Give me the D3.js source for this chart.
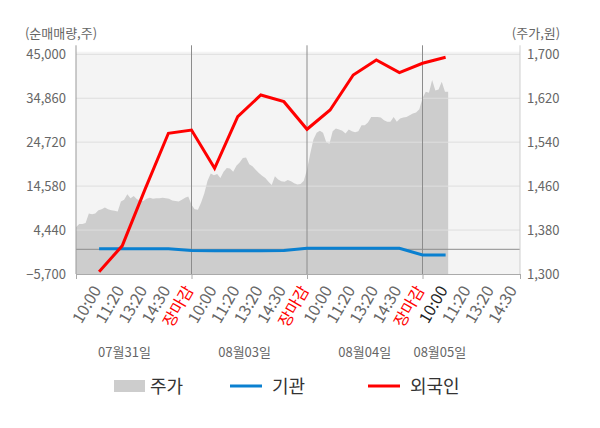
<!DOCTYPE html>
<html>
<head>
<meta charset="utf-8">
<script src="https://cdn.jsdelivr.net/npm/d3@7"></script>
<style>
  body { margin: 0; background: #fff; }
  svg { display: block; font-family: "Noto Sans CJK KR", "Noto Sans", sans-serif; }
</style>
</head>
<body>
<svg id="chart" width="600" height="428"></svg>
<script>
// x positions are "slots": each trading day is 5 slots wide, slot 0 = open of day 1
const xLabels = [
  "10:00", "11:20", "13:20", "14:30", "장마감",
  "10:00", "11:20", "13:20", "14:30", "장마감",
  "10:00", "11:20", "13:20", "14:30", "장마감",
  "10:00", "11:20", "13:20", "14:30"
];
const currentLabel = 15; // index of the latest time label (day 4, 10:00)
const days = ["07월31일", "08월03일", "08월04일", "08월05일"];
const dayLabelSlot = [2.1, 7.3, 12.5, 15.75];

const leftTicks = [-5700, 4440, 14580, 24720, 34860, 45000];
const rightTicks = [1300, 1380, 1460, 1540, 1620, 1700];

// net buying, one value per time label (slots 1..16)
const foreign = [-5170, 800, 13990, 26770, 27530, 18690, 30600, 35610, 34070,
                 27700, 32150, 40230, 43690, 40760, 42930, 44310];
const institution = [100, 100, 100, 100, -300, -320, -320, -320, -300,
                     230, 230, 230, 230, 230, -1320, -1320];

// intraday price per day, sampled evenly (36 samples per full day)
const priceDay1 = [1385, 1391, 1391, 1393, 1410, 1409, 1410, 1416, 1418, 1421, 1418, 1416,
                   1415, 1414, 1432, 1435, 1445, 1438, 1442, 1436, 1434, 1433, 1437, 1439,
                   1437, 1438, 1438, 1439, 1438, 1437, 1434, 1433, 1432, 1435, 1439, 1441];
const priceDay2 = [1426, 1418, 1417, 1430, 1447, 1470, 1483, 1480, 1482, 1475, 1486, 1493,
                   1492, 1486, 1497, 1503, 1511, 1512, 1500, 1496, 1490, 1484, 1479, 1475,
                   1468, 1462, 1478, 1472, 1469, 1468, 1471, 1469, 1465, 1463, 1464, 1470];
const priceDay3 = [1490, 1519, 1545, 1557, 1561, 1557, 1540, 1537, 1560, 1565, 1563, 1561,
                   1556, 1563, 1560, 1558, 1560, 1571, 1571, 1576, 1586, 1586, 1586, 1585,
                   1580, 1577, 1577, 1586, 1577, 1583, 1585, 1586, 1589, 1592, 1594, 1600];
const priceDay4 = [1620, 1632, 1630, 1653, 1634, 1636, 1650, 1632];

const samplesPerDay = 36;
const price = [];
[priceDay1, priceDay2, priceDay3, priceDay4].forEach((vals, d) => {
  vals.forEach((v, i) => price.push({slot: d * 5 + i * 5 / samplesPerDay, value: v}));
});
price.push({slot: 15 + priceDay4.length * 5 / samplesPerDay, value: priceDay4[priceDay4.length - 1]});

const svg = d3.select("#chart");
const plotLeft = 76, plotRight = 520, plotTop = 54.3, plotBottom = 274;

const x = d3.scaleLinear().domain([0, 19.22]).range([plotLeft, plotRight]);
const yL = d3.scaleLinear().domain([-5700, 45000]).range([plotBottom, plotTop]);
const yR = d3.scaleLinear().domain([1300, 1700]).range([plotBottom, plotTop]);

// plot background
svg.append("rect")
  .attr("x", plotLeft).attr("y", plotTop - 2.6)
  .attr("width", plotRight - plotLeft).attr("height", plotBottom - plotTop + 2.6)
  .attr("fill", "#f4f4f4");

// price area
svg.append("path")
  .datum(price)
  .attr("fill", "#cdcdcd")
  .attr("d", d3.area()
    .x(d => x(d.slot))
    .y0(plotBottom)
    .y1(d => yR(d.value)));

// horizontal grid
svg.append("g")
  .selectAll("line")
  .data(leftTicks.slice(1))
  .join("line")
    .attr("x1", plotLeft).attr("x2", plotRight)
    .attr("y1", d => yL(d)).attr("y2", d => yL(d))
    .attr("stroke", "#dedede").attr("stroke-width", 1);

// zero line
svg.append("line")
  .attr("x1", plotLeft).attr("x2", plotRight)
  .attr("y1", yL(0)).attr("y2", yL(0))
  .attr("stroke", "#8c8c8c").attr("stroke-width", 1);

// day separators
svg.append("g")
  .selectAll("line")
  .data([5, 10, 15])
  .join("line")
    .attr("x1", d => x(d)).attr("x2", d => x(d))
    .attr("y1", plotTop - 9).attr("y2", plotBottom)
    .attr("stroke", "#8c8c8c").attr("stroke-width", 1);

// axes
const lAxis = svg.append("g")
  .attr("transform", `translate(${plotLeft},0)`)
  .call(d3.axisLeft(yL).tickValues(leftTicks).tickFormat(d3.format(",")).tickSize(0).tickPadding(10));
lAxis.select(".domain").attr("d", `M0,${plotTop - 9}V${plotBottom}`).attr("stroke", "#999");

const rAxis = svg.append("g")
  .attr("transform", `translate(${plotRight},0)`)
  .call(d3.axisRight(yR).tickValues(rightTicks).tickFormat(d3.format(",")).tickSize(0).tickPadding(7));
rAxis.select(".domain").attr("d", `M0,${plotTop - 9}V${plotBottom}`).attr("stroke", "#cfcfcf");

[lAxis, rAxis].forEach(a => a.selectAll("text")
  .attr("fill", "#666").style("font-size", "13px").style("font-family", "'Noto Sans CJK KR'"));

const bAxis = svg.append("g")
  .attr("transform", `translate(0,${plotBottom})`)
  .call(d3.axisBottom(x).tickValues([0, 5, 10, 15, 19.22]).tickFormat("").tickSize(5));
bAxis.select(".domain").attr("stroke", "#aaa");
bAxis.selectAll(".tick line").attr("stroke", "#aaa");

const labelAxis = svg.append("g")
  .attr("transform", `translate(0,${plotBottom})`)
  .call(d3.axisBottom(x).tickValues(d3.range(1, xLabels.length + 1)).tickFormat((d, i) => xLabels[i]).tickSize(0));
labelAxis.select(".domain").remove();
labelAxis.selectAll("text")
  .attr("text-anchor", "end")
  .attr("dy", null)
  .attr("y", 0)
  .attr("transform", "translate(2,16) rotate(-60)")
  .style("font-size", "16px")
  .style("font-family", "'Noto Sans CJK KR'")
  .attr("fill", (d, i) => xLabels[i] === "장마감" ? "#ff0000" : (i === currentLabel ? "#222" : "#666"));

// date labels
svg.append("g")
  .selectAll("text")
  .data(days)
  .join("text")
    .attr("x", (d, i) => x(dayLabelSlot[i]))
    .attr("y", 357)
    .attr("text-anchor", "middle")
    .attr("fill", "#666")
    .style("font-size", "13px")
    .text(d => d);

// axis titles
svg.append("text").attr("x", 61).attr("y", 38).attr("text-anchor", "middle")
  .attr("fill", "#666").style("font-size", "13px").text("(순매매량,주)");
svg.append("text").attr("x", 536).attr("y", 38).attr("text-anchor", "middle")
  .attr("fill", "#666").style("font-size", "13px").text("(주가,원)");

// net buying lines
const line = d3.line()
  .x((d, i) => x(i + 1))
  .y(d => yL(d));

svg.append("path")
  .datum(institution)
  .attr("fill", "none")
  .attr("stroke", "#0a80d0")
  .attr("stroke-width", 3)
  .attr("d", line);

svg.append("path")
  .datum(foreign)
  .attr("fill", "none")
  .attr("stroke", "#ff0000")
  .attr("stroke-width", 3)
  .attr("d", line);

// legend
const legend = svg.append("g").style("font-size", "18px").attr("fill", "#333");
legend.append("rect").attr("x", 114).attr("y", 380).attr("width", 31).attr("height", 12).attr("fill", "#cdcdcd");
legend.append("text").attr("x", 150).attr("y", 392.5).text("주가");
legend.append("line").attr("x1", 230).attr("x2", 262).attr("y1", 386).attr("y2", 386)
  .attr("stroke", "#0a80d0").attr("stroke-width", 3);
legend.append("text").attr("x", 272).attr("y", 392.5).text("기관");
legend.append("line").attr("x1", 368).attr("x2", 400).attr("y1", 386).attr("y2", 386)
  .attr("stroke", "#ff0000").attr("stroke-width", 3);
legend.append("text").attr("x", 410).attr("y", 392.5).text("외국인");
</script>
</body>
</html>
